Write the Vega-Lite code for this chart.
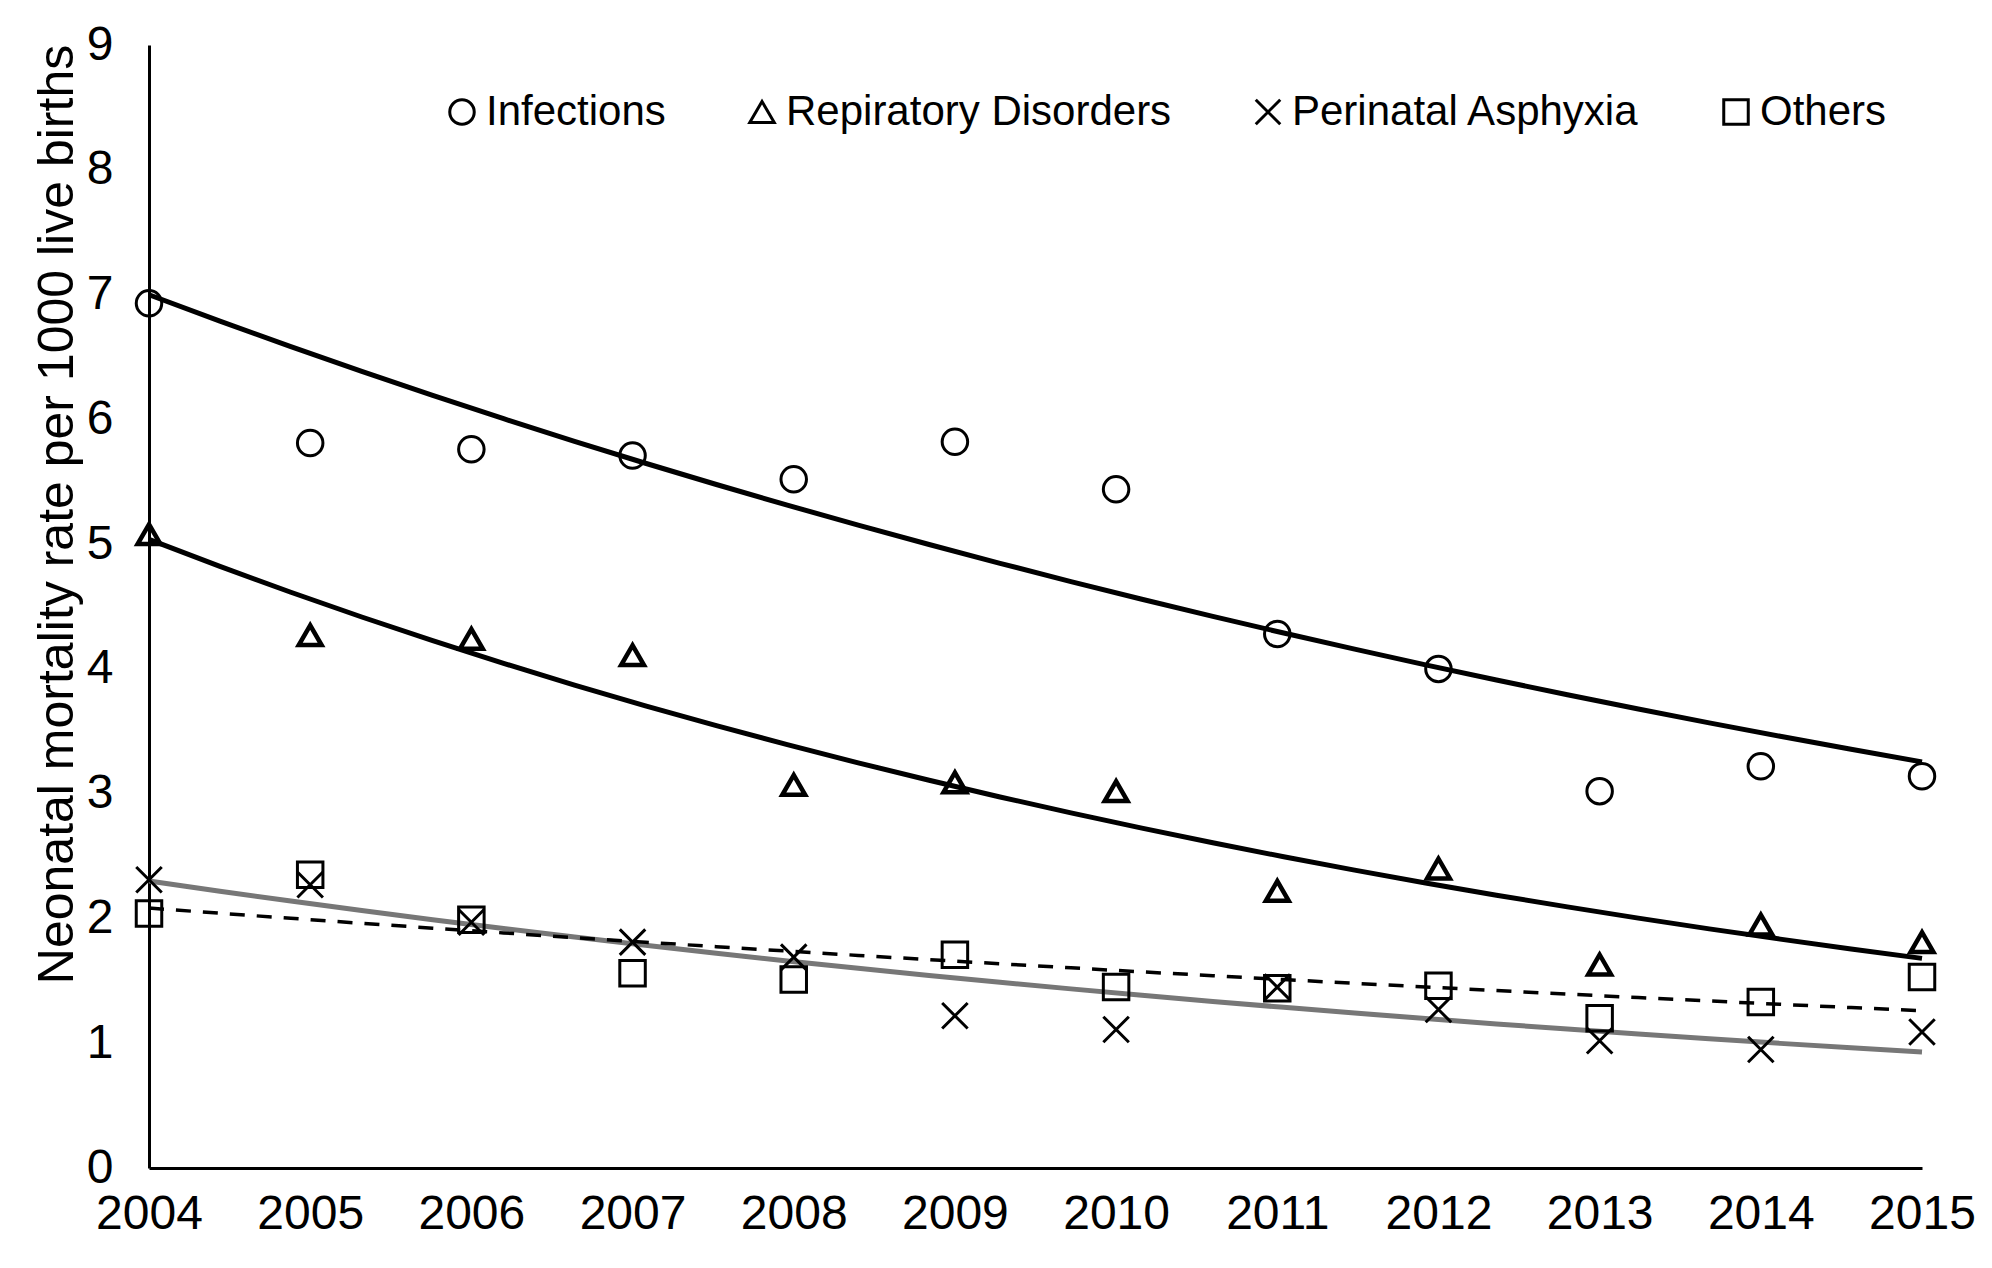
{
  "$schema": "https://vega.github.io/schema/vega-lite/v6.json",
  "autosize": "none",
  "width": 1773,
  "height": 1123,
  "padding": {"left": 149, "top": 45, "right": 70, "bottom": 100},
  "background": "white",
  "config": {
    "view": {"stroke": null},
    "font": "Liberation Sans",
    "axis": {"grid": false, "ticks": false, "domainColor": "black", "domainWidth": 3, "labelColor": "black", "labelFont": "Liberation Sans", "labelFontSize": 48, "titleColor": "black", "titleFont": "Liberation Sans", "titleFontWeight": "normal"}
  },
  "data": {"values": [
    {"year": 2004, "series": "Infections", "value": 6.93},
    {"year": 2005, "series": "Infections", "value": 5.81},
    {"year": 2006, "series": "Infections", "value": 5.76},
    {"year": 2007, "series": "Infections", "value": 5.71},
    {"year": 2008, "series": "Infections", "value": 5.52},
    {"year": 2009, "series": "Infections", "value": 5.82},
    {"year": 2010, "series": "Infections", "value": 5.44},
    {"year": 2011, "series": "Infections", "value": 4.28},
    {"year": 2012, "series": "Infections", "value": 4.00},
    {"year": 2013, "series": "Infections", "value": 3.02},
    {"year": 2014, "series": "Infections", "value": 3.22},
    {"year": 2015, "series": "Infections", "value": 3.14},
    {"year": 2004, "series": "Repiratory Disorders", "value": 5.08},
    {"year": 2005, "series": "Repiratory Disorders", "value": 4.27},
    {"year": 2006, "series": "Repiratory Disorders", "value": 4.24},
    {"year": 2007, "series": "Repiratory Disorders", "value": 4.11},
    {"year": 2008, "series": "Repiratory Disorders", "value": 3.07},
    {"year": 2009, "series": "Repiratory Disorders", "value": 3.09},
    {"year": 2010, "series": "Repiratory Disorders", "value": 3.02},
    {"year": 2011, "series": "Repiratory Disorders", "value": 2.22},
    {"year": 2012, "series": "Repiratory Disorders", "value": 2.40},
    {"year": 2013, "series": "Repiratory Disorders", "value": 1.63},
    {"year": 2014, "series": "Repiratory Disorders", "value": 1.95},
    {"year": 2015, "series": "Repiratory Disorders", "value": 1.81},
    {"year": 2004, "series": "Perinatal Asphyxia", "value": 2.31},
    {"year": 2005, "series": "Perinatal Asphyxia", "value": 2.27},
    {"year": 2006, "series": "Perinatal Asphyxia", "value": 1.97},
    {"year": 2007, "series": "Perinatal Asphyxia", "value": 1.81},
    {"year": 2008, "series": "Perinatal Asphyxia", "value": 1.69},
    {"year": 2009, "series": "Perinatal Asphyxia", "value": 1.22},
    {"year": 2010, "series": "Perinatal Asphyxia", "value": 1.11},
    {"year": 2011, "series": "Perinatal Asphyxia", "value": 1.45},
    {"year": 2012, "series": "Perinatal Asphyxia", "value": 1.27},
    {"year": 2013, "series": "Perinatal Asphyxia", "value": 1.02},
    {"year": 2014, "series": "Perinatal Asphyxia", "value": 0.95},
    {"year": 2015, "series": "Perinatal Asphyxia", "value": 1.09},
    {"year": 2004, "series": "Others", "value": 2.04},
    {"year": 2005, "series": "Others", "value": 2.35},
    {"year": 2006, "series": "Others", "value": 1.99},
    {"year": 2007, "series": "Others", "value": 1.56},
    {"year": 2008, "series": "Others", "value": 1.51},
    {"year": 2009, "series": "Others", "value": 1.71},
    {"year": 2010, "series": "Others", "value": 1.45},
    {"year": 2011, "series": "Others", "value": 1.44},
    {"year": 2012, "series": "Others", "value": 1.46},
    {"year": 2013, "series": "Others", "value": 1.20},
    {"year": 2014, "series": "Others", "value": 1.33},
    {"year": 2015, "series": "Others", "value": 1.53}
  ]},
  "encoding": {
    "x": {"field": "year", "type": "quantitative", "scale": {"domain": [2004, 2015], "nice": false, "zero": false},
          "axis": {"values": [2004,2005,2006,2007,2008,2009,2010,2011,2012,2013,2014,2015], "format": "d", "title": null, "labelPadding": 22, "labelFlush": false}},
    "y": {"field": "value", "type": "quantitative", "scale": {"domain": [0, 9], "nice": false},
          "axis": {"values": [0,1,2,3,4,5,6,7,8,9], "format": "d", "title": "Neonatal mortality rate per 1000 live births", "titleFontSize": 50, "labelPadding": 36, "titleX": -92, "titleY": 469, "titleAngle": -90, "titleAlign": "center", "titleBaseline": "middle"}}
  },
  "layer": [
    {
      "transform": [{"filter": "datum.series === 'Infections'"}, {"regression": "value", "on": "year", "method": "exp", "extent": [2004, 2015]}],
      "mark": {"type": "line", "color": "black", "strokeWidth": 5},
      "encoding": {}
    },
    {
      "transform": [{"filter": "datum.series === 'Repiratory Disorders'"}, {"regression": "value", "on": "year", "method": "exp", "extent": [2004, 2015]}],
      "mark": {"type": "line", "color": "black", "strokeWidth": 5},
      "encoding": {}
    },
    {
      "transform": [{"filter": "datum.series === 'Perinatal Asphyxia'"}, {"regression": "value", "on": "year", "method": "exp", "extent": [2004, 2015]}],
      "mark": {"type": "line", "color": "#777777", "strokeWidth": 5},
      "encoding": {}
    },
    {
      "transform": [{"filter": "datum.series === 'Others'"}, {"regression": "value", "on": "year", "method": "exp", "extent": [2004, 2015]}],
      "mark": {"type": "line", "color": "black", "strokeWidth": 3.5, "strokeDash": [15, 12]},
      "encoding": {}
    },
    {
      "transform": [{"filter": "datum.series !== 'Repiratory Disorders'"}],
      "mark": {"type": "point", "filled": false, "stroke": "black", "strokeWidth": 3, "size": 650, "opacity": 1},
      "encoding": {
        "shape": {"field": "series", "type": "nominal",
                  "scale": {"domain": ["Infections", "Repiratory Disorders", "Perinatal Asphyxia", "Others"], "range": ["circle", "triangle-up", "M-1,-1L1,1M-1,1L1,-1", "square"]},
                  "legend": {"title": null, "orient": "none", "legendX": 292, "legendY": 46, "direction": "horizontal", "values": ["Infections", "Repiratory Disorders", "Perinatal Asphyxia", "Others"],
                             "symbolStrokeColor": "black", "symbolFillColor": "transparent", "symbolStrokeWidth": 3, "symbolSize": 600, "symbolOpacity": 1,
                             "labelFont": "Liberation Sans", "labelFontSize": 42, "labelColor": "black", "labelOffset": 3, "columnPadding": 75, "padding": 0, "labelLimit": 0,
                             "encode": {"symbols": {"update": {"strokeWidth": {"signal": "datum.value === 'Repiratory Disorders' ? 5 : 3"}}}}}}
      }
    },
    {
      "transform": [{"filter": "datum.series === 'Repiratory Disorders'"}],
      "mark": {"type": "point", "filled": false, "stroke": "black", "strokeWidth": 4.5, "size": 520, "opacity": 1},
      "encoding": {
        "shape": {"field": "series", "type": "nominal"}
      }
    }
  ]
}
